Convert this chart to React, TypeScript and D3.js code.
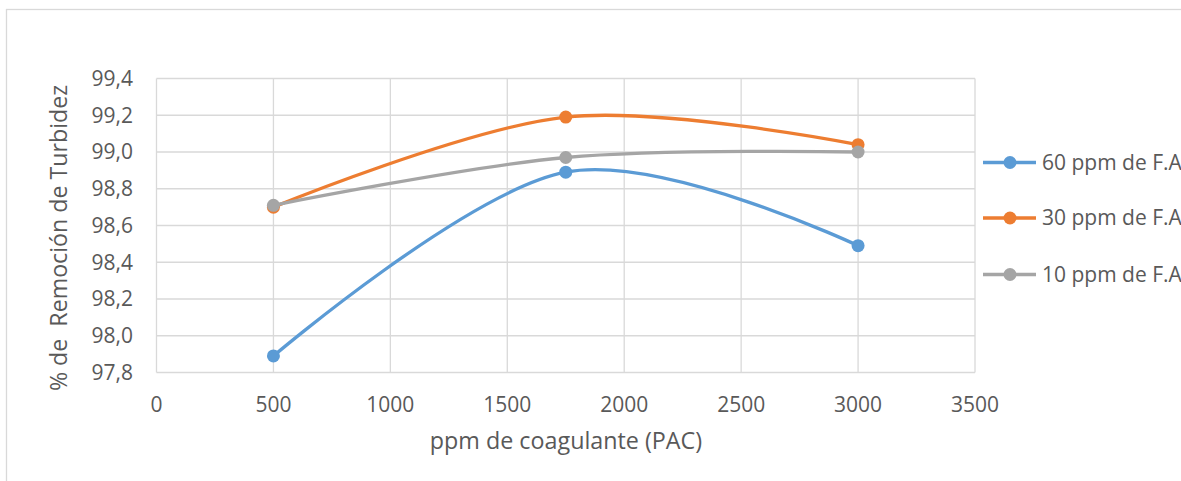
import React, { useEffect, useRef } from "react";
import * as d3 from "d3";

// Coagulant dose (ppm of PAC) on the x axis
const doses = [500, 1750, 3000];

// Turbidity removal (%) for each flocculant aid dose
const series60 = [97.89, 98.89, 98.49];
const series30 = [98.70, 99.19, 99.04];
const series10 = [98.71, 98.97, 99.0];

const seriesNames = ["60 ppm de F.A", "30 ppm de F.A", "10 ppm de F.A"];
const seriesColors = ["#5B9BD5", "#ED7D31", "#A5A5A5"];

const xTicks = [0, 500, 1000, 1500, 2000, 2500, 3000, 3500];
const yTicks = [97.8, 98.0, 98.2, 98.4, 98.6, 98.8, 99.0, 99.2, 99.4];

const xTitle = "ppm de coagulante (PAC)";
const yTitle = "% de  Remoción de Turbidez";

const W = 1181;
const H = 481;
const FONT = "'Open Sans', Lato, sans-serif";
const TEXT = "#595959";
const GRID = "#d9d9d9";

export default function App() {
  const ref = useRef<SVGSVGElement | null>(null);

  useEffect(() => {
    const svg = d3.select(ref.current);
    svg.selectAll("*").remove();

    const plot = { left: 156.5, right: 975, top: 78.5, bottom: 372.5 };
    const x = d3.scaleLinear().domain([0, 3500]).range([plot.left, plot.right]);
    const y = d3.scaleLinear().domain([97.8, 99.4]).range([plot.bottom, plot.top]);

    // chart frame
    svg.append("rect")
      .attr("x", 6.5).attr("y", 9.5)
      .attr("width", 1180).attr("height", 480)
      .attr("fill", "#fff").attr("stroke", GRID).attr("stroke-width", 1.3);

    // gridlines
    const g = svg.append("g");
    g.selectAll("line.h").data(yTicks).join("line")
      .attr("x1", plot.left).attr("x2", plot.right)
      .attr("y1", (d) => y(d)).attr("y2", (d) => y(d))
      .attr("stroke", GRID).attr("stroke-width", 1.3);
    g.selectAll("line.v").data(xTicks).join("line")
      .attr("y1", plot.top).attr("y2", plot.bottom)
      .attr("x1", (d) => x(d)).attr("x2", (d) => x(d))
      .attr("stroke", GRID).attr("stroke-width", 1.3);

    // tick labels
    svg.append("g").selectAll("text").data(yTicks).join("text")
      .attr("x", 133).attr("y", (d) => y(d))
      .attr("dy", "0.35em")
      .attr("text-anchor", "end")
      .attr("font-family", FONT).attr("font-size", 21).attr("fill", TEXT)
      .text((d) => d3.format(".1f")(d).replace(".", ","));

    svg.append("g").selectAll("text").data(xTicks).join("text")
      .attr("x", (d) => x(d)).attr("y", 405)
      .attr("dy", "0.35em")
      .attr("text-anchor", "middle")
      .attr("font-family", FONT).attr("font-size", 21).attr("fill", TEXT)
      .text((d) => String(d));

    // axis titles
    svg.append("text")
      .attr("x", 566).attr("y", 441).attr("dy", "0.35em")
      .attr("text-anchor", "middle")
      .attr("font-family", FONT).attr("font-size", 23.3).attr("fill", TEXT)
      .text(xTitle);

    svg.append("text")
      .attr("transform", `translate(59,238) rotate(-90)`)
      .attr("dy", "0.35em")
      .attr("text-anchor", "middle")
      .attr("font-family", FONT).attr("font-size", 23.2).attr("fill", TEXT)
      .style("white-space", "pre")
      .text(yTitle);

    // smoothed series lines with markers
    const all = [series60, series30, series10];
    const line = d3.line<[number, number]>()
      .x((d) => x(d[0]))
      .y((d) => y(d[1]))
      .curve(d3.curveCardinal.tension(0));

    all.forEach((vals, i) => {
      const pts = doses.map((d, j) => [d, vals[j]] as [number, number]);
      svg.append("path")
        .attr("d", line(pts))
        .attr("fill", "none")
        .attr("stroke", seriesColors[i])
        .attr("stroke-width", 3.3)
        .attr("stroke-linecap", "round");
      svg.append("g").selectAll("circle").data(pts).join("circle")
        .attr("cx", (d) => x(d[0])).attr("cy", (d) => y(d[1]))
        .attr("r", 6.5)
        .attr("fill", seriesColors[i]);
    });

    // legend
    const legendY = [162.5, 218, 274.5];
    seriesNames.forEach((name, i) => {
      const lg = svg.append("g");
      lg.append("line")
        .attr("x1", 983).attr("x2", 1036)
        .attr("y1", legendY[i]).attr("y2", legendY[i])
        .attr("stroke", seriesColors[i]).attr("stroke-width", 3.3);
      lg.append("circle")
        .attr("cx", 1010).attr("cy", legendY[i]).attr("r", 6.5)
        .attr("fill", seriesColors[i]);
      lg.append("text")
        .attr("x", 1042).attr("y", legendY[i]).attr("dy", "0.35em")
        .attr("font-family", FONT).attr("font-size", 21).attr("fill", TEXT)
        .text(name);
    });
  }, []);

  return (
    <svg
      ref={ref}
      width={W}
      height={H}
      style={{ display: "block", position: "absolute", left: 0, top: 0 }}
    />
  );
}
